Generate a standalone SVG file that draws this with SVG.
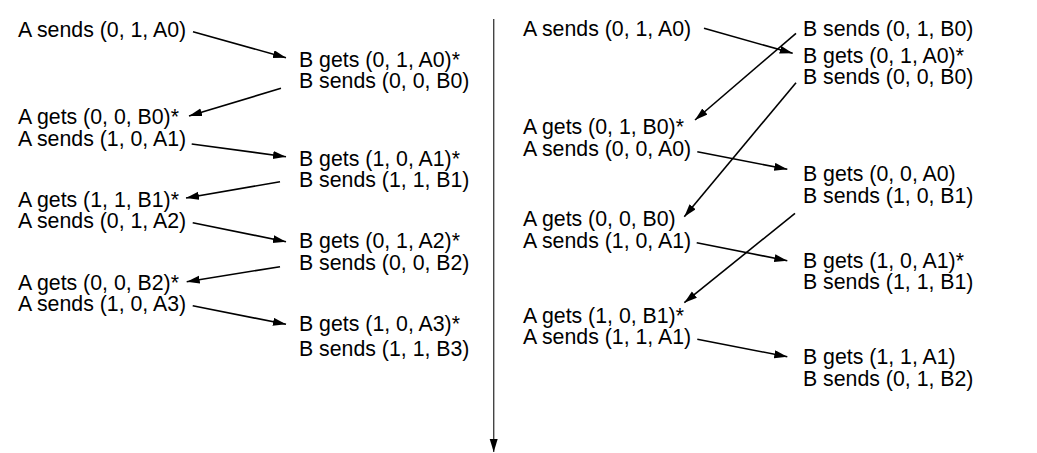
<svg xmlns="http://www.w3.org/2000/svg" width="1037" height="453" viewBox="0 0 1037 453">
<style>
text{font-family:"Liberation Sans",Arial,Helvetica,sans-serif;font-size:21.3px;fill:#000}
.c{stroke:#000;stroke-width:1.6;fill:none;marker-end:url(#ah)}
.axis{stroke:#444;stroke-width:1.4;fill:none;marker-end:url(#ah2)}
</style>
<defs>
<marker id="ah" markerUnits="userSpaceOnUse" markerWidth="14" markerHeight="10" refX="13" refY="4" orient="auto">
<path d="M0,0 L13,4 L0,8 z" fill="#000"/>
</marker>
<marker id="ah2" markerUnits="userSpaceOnUse" markerWidth="14" markerHeight="10" refX="13" refY="4" orient="auto">
<path d="M0,0 L13,4 L0,8 z" fill="#000"/>
</marker>
</defs>
<rect width="1037" height="453" fill="#fff"/>
<g id="connectors">
<line class="axis" x1="493.7" y1="19" x2="493.7" y2="452"/>
<line class="c" x1="193" y1="31.7" x2="286" y2="57.7"/>
<line class="c" x1="281" y1="88.3" x2="189" y2="116"/>
<line class="c" x1="191.7" y1="144" x2="286" y2="156.7"/>
<line class="c" x1="280" y1="181.7" x2="186" y2="198"/>
<line class="c" x1="192.7" y1="222.7" x2="286" y2="241.7"/>
<line class="c" x1="280" y1="266.7" x2="186.7" y2="281.7"/>
<line class="c" x1="192.7" y1="305.7" x2="286" y2="324.3"/>
<line class="c" x1="704" y1="28.3" x2="792.7" y2="53.3"/>
<line class="c" x1="796" y1="33.3" x2="695" y2="120"/>
<line class="c" x1="796" y1="82.7" x2="684.3" y2="216.7"/>
<line class="c" x1="697.3" y1="151.7" x2="787.3" y2="169.3"/>
<line class="c" x1="696.7" y1="242.7" x2="787.3" y2="260.7"/>
<line class="c" x1="795" y1="213.3" x2="684.3" y2="302.7"/>
<line class="c" x1="697.3" y1="339.3" x2="787.3" y2="356.7"/>
</g>
<g id="left-a0"><text x="18" y="37">A sends (0, 1, A0)</text></g>
<g id="left-b0"><text x="299" y="66.5">B gets (0, 1, A0)*</text><text x="299" y="88">B sends (0, 0, B0)</text></g>
<g id="left-a1"><text x="18" y="124">A gets (0, 0, B0)*</text><text x="18" y="145.5">A sends (1, 0, A1)</text></g>
<g id="left-b1"><text x="299" y="165.5">B gets (1, 0, A1)*</text><text x="299" y="187">B sends (1, 1, B1)</text></g>
<g id="left-a2"><text x="18" y="206.5">A gets (1, 1, B1)*</text><text x="18" y="228">A sends (0, 1, A2)</text></g>
<g id="left-b2"><text x="299" y="248">B gets (0, 1, A2)*</text><text x="299" y="269.5">B sends (0, 0, B2)</text></g>
<g id="left-a3"><text x="18" y="289.5">A gets (0, 0, B2)*</text><text x="18" y="311">A sends (1, 0, A3)</text></g>
<g id="left-b3"><text x="299" y="331">B gets (1, 0, A3)*</text><text x="299" y="355.5">B sends (1, 1, B3)</text></g>
<g id="right-a0"><text x="523" y="36">A sends (0, 1, A0)</text></g>
<g id="right-b0"><text x="803" y="36">B sends (0, 1, B0)</text><text x="803" y="62.5">B gets (0, 1, A0)*</text><text x="803" y="84">B sends (0, 0, B0)</text></g>
<g id="right-a1"><text x="523" y="134">A gets (0, 1, B0)*</text><text x="523" y="155.5">A sends (0, 0, A0)</text></g>
<g id="right-b1"><text x="803" y="181">B gets (0, 0, A0)</text><text x="803" y="202.5">B sends (1, 0, B1)</text></g>
<g id="right-a2"><text x="523" y="226">A gets (0, 0, B0)</text><text x="523" y="247.5">A sends (1, 0, A1)</text></g>
<g id="right-b2"><text x="803" y="267.5">B gets (1, 0, A1)*</text><text x="803" y="289">B sends (1, 1, B1)</text></g>
<g id="right-a3"><text x="523" y="322.5">A gets (1, 0, B1)*</text><text x="523" y="344">A sends (1, 1, A1)</text></g>
<g id="right-b3"><text x="803" y="364">B gets (1, 1, A1)</text><text x="803" y="385.5">B sends (0, 1, B2)</text></g>
</svg>
